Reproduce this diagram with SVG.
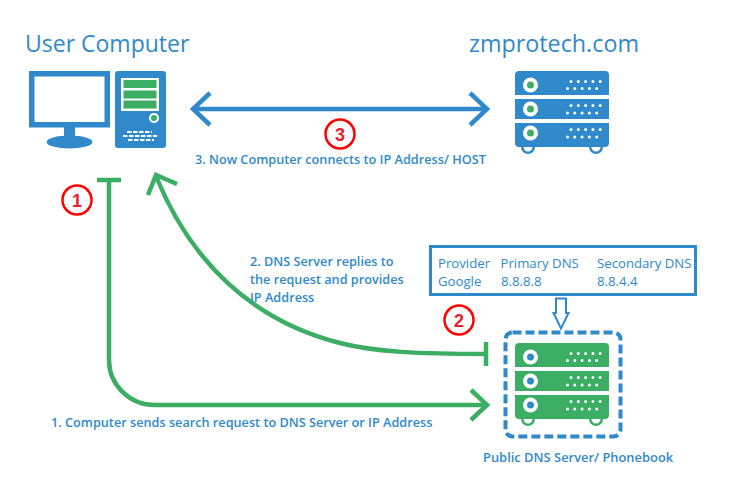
<svg xmlns="http://www.w3.org/2000/svg" width="739" height="479" viewBox="0 0 739 479">
<style>
text{font-family:"Open Sans","Noto Sans","Liberation Sans",sans-serif;fill:#3089ca}
.t{font-size:23px}.b{font-size:12.700px;font-weight:600}.m{font-size:13.200px}
.n{font-family:"Liberation Sans",sans-serif;font-size:18px;font-weight:700;fill:#e8202e;text-anchor:middle}
.c{fill:none;stroke:#fe0000;stroke-width:2.500}
.g{fill:none;stroke:#3bae63;stroke-width:4.500}
.bl{fill:none;stroke:#3089ca;stroke-width:4.500}
.d{fill:none;stroke:#fff;stroke-width:3;stroke-linecap:round;stroke-dasharray:0 7.300}
</style>
<defs>
<g id="srv">
<circle cx="13" cy="76" r="7"/><circle cx="81" cy="76" r="7"/>
<path d="M0 24V4Q0 0 4 0H90Q94 0 94 4V24Z"/>
<rect y="28" width="94" height="20"/>
<path d="M0 52H94V72Q94 76 90 76H4Q0 76 0 72Z"/>
<path d="M8.500 76a4.500 4.500 0 0 0 9 0zM76.500 76a4.500 4.500 0 0 0 9 0z" fill="#fff"/>
<g class="d"><path d="M56 10.500H86M52.500 17.500H82M56 34.500H86M52.500 42H82M56 58.500H86M52.500 66H82"/></g>
</g>
</defs>
<rect width="739" height="479" fill="#fff"/>
<text class="t" x="25" y="52">User Computer</text>
<text class="t" x="469" y="52" style="font-size:23.300px">zmprotech.com</text>

<g id="user-computer">
<rect x="31.750" y="73.750" width="75.500" height="51" fill="none" stroke="#3089ca" stroke-width="5.500"/>
<rect x="64" y="127" width="11" height="10" fill="#3089ca"/>
<ellipse cx="69.500" cy="142" rx="23" ry="6.500" fill="#3089ca"/>
<rect x="115" y="71" width="51" height="77" rx="3" fill="#3089ca"/>
<rect x="121" y="78" width="38" height="33" fill="#fff"/>
<rect x="123.500" y="80" width="33" height="8" fill="#3bae63"/>
<rect x="123.500" y="90.500" width="33" height="8" fill="#3bae63"/>
<rect x="123.500" y="100.500" width="33" height="8" fill="#3bae63"/>
<circle cx="154" cy="118" r="5" fill="#fff"/><circle cx="154" cy="118" r="3" fill="#3bae63"/>
<path d="M127 132H152M123 136H157M128 140H154" fill="none" stroke="#fff" stroke-width="2.200" stroke-dasharray="4.500 1.500"/>
</g>

<g id="web-server" fill="#3089ca" transform="translate(515 71)">
<use href="#srv"/>
<g fill="#fff"><circle cx="15.500" cy="14" r="7.500"/><circle cx="15.500" cy="38" r="7.500"/><circle cx="15.500" cy="62" r="7.500"/></g>
<g fill="#3bae63"><circle cx="15.500" cy="14" r="3.500"/><circle cx="15.500" cy="38" r="3.500"/><circle cx="15.500" cy="62" r="3.500"/></g>
</g>

<g id="dns-server">
<rect x="505.500" y="332.500" width="115" height="104" rx="7" fill="none" stroke="#3089ca" stroke-width="4" stroke-dasharray="9 4"/>
<g fill="#3bae63" transform="translate(515 343)">
<use href="#srv"/>
<g fill="#fff"><circle cx="15.500" cy="14" r="7.500"/><circle cx="15.500" cy="38" r="7.500"/><circle cx="15.500" cy="62" r="7.500"/></g>
<g fill="#3089ca"><circle cx="15.500" cy="14" r="3.500"/><circle cx="15.500" cy="38" r="3.500"/><circle cx="15.500" cy="62" r="3.500"/></g>
</g>
<text class="b" x="483" y="462" style="font-size:12.900px">Public DNS Server/ Phonebook</text>
</g>

<g id="dns-table">
<rect x="430.500" y="246.500" width="265" height="48" fill="#fff" stroke="#3089ca" stroke-width="3"/>
<text class="m" x="438" y="268">Provider</text><text class="m" x="500.500" y="268">Primary DNS</text><text class="m" x="597" y="268">Secondary DNS</text>
<text class="m" x="438" y="286">Google</text><text class="m" x="501" y="286">8.8.8.8</text><text class="m" x="597" y="286">8.8.4.4</text>
</g>

<g id="connectors">
<path class="g" d="M97 180H121M109 180V360A46 45 0 0 0 155 405H486"/>
<path class="g" d="M471 390L487 405L471 420"/>
<path class="g" d="M486 342V366M486 354C420 354 375 352 340 343C250 320 190 260 156 176"/>
<path class="g" d="M148 195L156 175L177 184"/>
<path class="bl" d="M193 109H487M210 93L193 109L210 125M470 93L487 109L470 125"/>
<path d="M556 298.500H566V313H568.500L561 328.500L553.500 313H556Z" fill="#fff" stroke="#3089ca" stroke-width="2"/>
</g>

<g id="step-1"><circle class="c" cx="77" cy="200" r="14.500"/><text class="n" x="77" y="206.500">1</text></g>
<g id="step-2"><circle class="c" cx="459" cy="320" r="14.500"/><text class="n" x="459" y="326.500">2</text></g>
<g id="step-3"><circle class="c" cx="340" cy="134" r="14.500"/><text class="n" x="340" y="140.500">3</text></g>

<text class="b" x="195" y="164">3. Now Computer connects to IP Address/ HOST</text>
<text class="b" x="250" y="266">2. DNS Server replies to</text>
<text class="b" x="250" y="284">the request and provides</text>
<text class="b" x="250" y="302">IP Address</text>
<text class="b" x="51" y="427">1. Computer sends search request to DNS Server or IP Address</text>
</svg>
